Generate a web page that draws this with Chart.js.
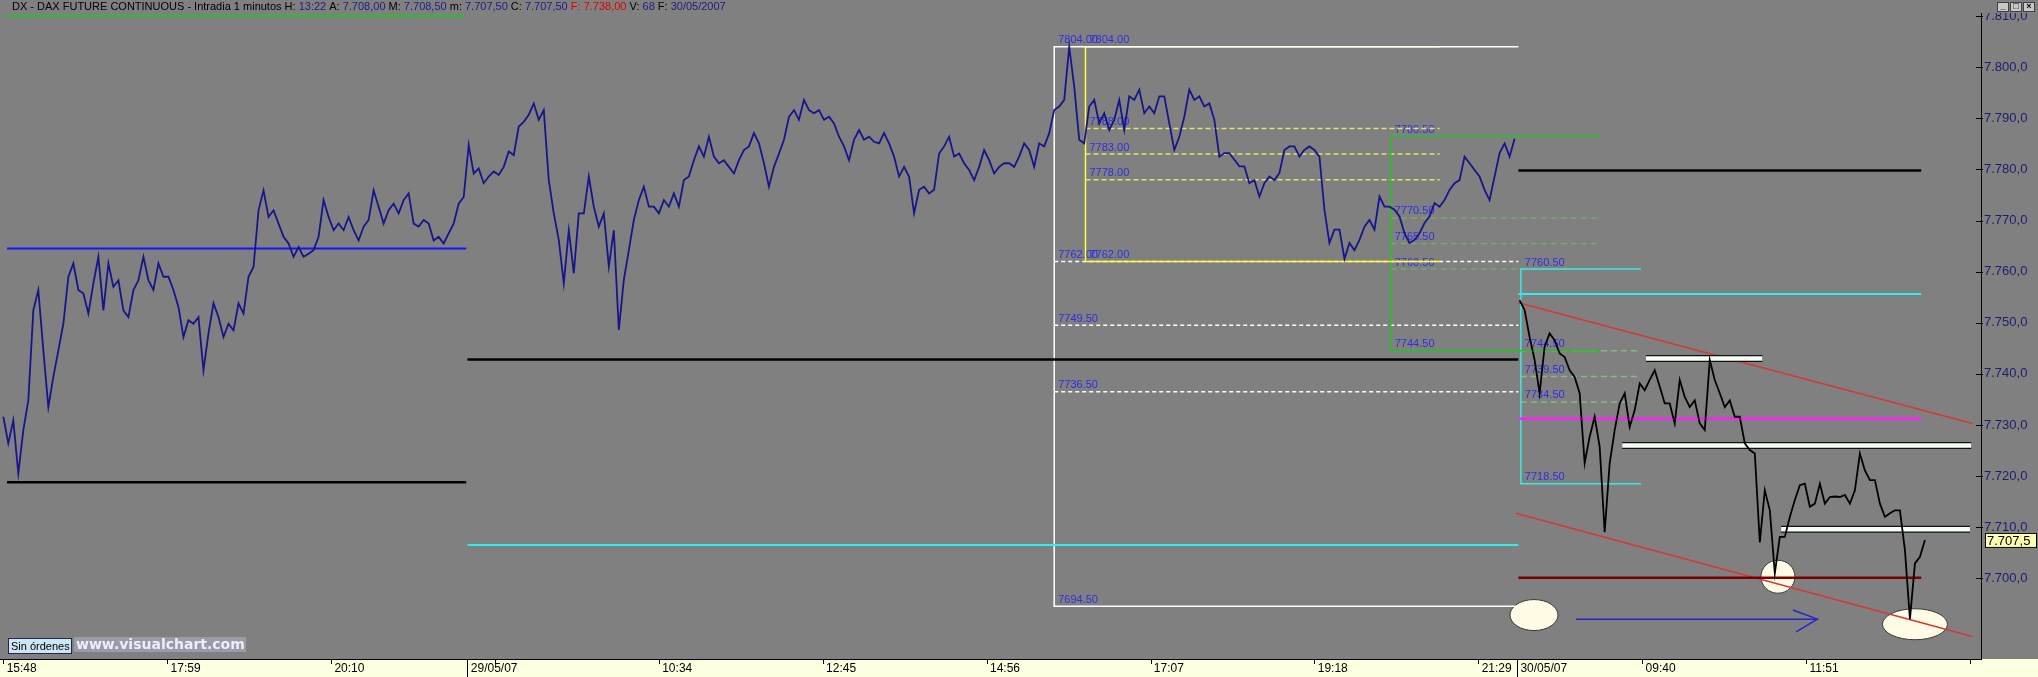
<!DOCTYPE html>
<html lang="es">
<head>
<meta charset="UTF-8">
<title>DX - DAX FUTURE CONTINUOUS - Intradia 1 minutos</title>
<script src="https://cdn.jsdelivr.net/npm/chart.js"></script>
<style>
  html, body { margin: 0; padding: 0; background: #808080; }
  #wrap { width: 2038px; height: 677px; }
</style>
</head>
<body>
<div id="wrap"><canvas id="chart" width="2038" height="677"></canvas></div>
<script>
// --- data (bar = one minute; one value every 4 bars) ---
const BAR_STEP = 4;

// 28/05 15:48 -> 29/05 22:00, starts at bar 0
const sessionBlue = [
  7731.6, 7726.4, 7730.9, 7720.5, 7729.0, 7734.8, 7752.4, 7756.4, 7744.6, 7733.5,
  7739.4, 7744.6, 7749.8, 7759.0, 7761.6, 7756.4, 7755.7, 7751.8, 7757.7, 7762.9,
  7752.4, 7761.6, 7757.0, 7758.3, 7752.4, 7751.1, 7756.4, 7758.3, 7762.9, 7758.3,
  7756.4, 7761.6, 7759.0, 7759.0, 7756.4, 7753.1, 7747.2, 7750.5, 7749.8, 7751.1,
  7740.7, 7747.9, 7753.8, 7751.1, 7747.2, 7749.8, 7748.5, 7753.8, 7751.8, 7759.0,
  7760.9, 7772.0, 7775.9, 7770.7, 7772.0, 7769.4, 7766.8, 7765.5, 7762.9, 7764.8,
  7762.9, 7763.5, 7764.2, 7766.8, 7774.0, 7770.7, 7768.1, 7769.4, 7768.1, 7770.7,
  7768.1, 7766.1, 7768.8, 7770.1, 7775.9, 7772.7, 7769.4, 7772.0, 7773.3, 7771.4,
  7774.0, 7775.3, 7769.4, 7768.8, 7770.1, 7769.4, 7766.1, 7766.8, 7765.5, 7767.5,
  7769.4, 7773.3, 7774.6,
  7784.8, 7779.2, 7780.2, 7777.3, 7778.6, 7779.6, 7778.9, 7780.5, 7783.5, 7782.8,
  7788.4, 7789.3, 7790.7, 7792.9, 7789.7, 7791.6, 7777.9, 7771.4, 7766.2, 7757.7,
  7768.1, 7759.7, 7771.4, 7771.4, 7778.6, 7772.7, 7768.8, 7771.4, 7761.0, 7768.1,
  7748.6, 7758.4, 7764.2, 7770.1, 7774.0, 7776.6, 7772.7, 7772.7, 7771.4, 7774.0,
  7772.7, 7775.3, 7772.7, 7777.9, 7778.6, 7781.8, 7784.5, 7782.5, 7786.4, 7782.5,
  7781.2, 7781.8, 7780.5, 7779.2, 7781.8, 7783.8, 7784.5, 7787.1, 7785.1, 7781.2,
  7776.6, 7780.5, 7783.1, 7785.8, 7790.3, 7791.6, 7789.7, 7793.6, 7791.6, 7791.0,
  7791.6, 7789.7, 7790.3, 7789.0, 7786.4, 7784.5, 7781.8, 7785.8, 7787.7, 7785.8,
  7786.4, 7785.4, 7785.1, 7787.1, 7785.1, 7782.5, 7778.6, 7780.5, 7778.6, 7771.4,
  7776.0, 7776.6, 7775.3, 7776.0, 7783.1, 7784.5, 7786.4, 7782.5, 7783.1, 7781.2,
  7779.9, 7777.9, 7780.5, 7783.8, 7781.8, 7779.2, 7780.5, 7781.2, 7781.2, 7780.5,
  7782.5, 7785.1, 7783.8, 7780.5, 7785.1, 7784.5, 7787.1, 7791.6, 7792.3, 7793.6,
  7804.0, 7796.2, 7785.8,
  7785.1, 7792.3, 7793.6, 7789.0, 7791.0, 7787.7, 7789.7, 7793.6, 7787.7, 7794.3,
  7793.6, 7795.6, 7791.0, 7792.3, 7791.0, 7794.3, 7794.3, 7789.0, 7783.8, 7786.4,
  7790.3, 7795.6, 7793.6, 7794.3, 7792.3, 7792.9, 7789.7, 7782.5, 7783.2, 7783.2,
  7781.9, 7780.6, 7780.6, 7777.3, 7777.9, 7774.7, 7777.3, 7778.6, 7777.9, 7779.3,
  7783.8, 7784.5, 7784.5, 7782.5, 7783.8, 7784.5, 7783.8, 7782.5, 7772.1, 7765.6,
  7768.2, 7768.2, 7762.5, 7765.6, 7764.2, 7766.2, 7768.8, 7770.1, 7768.2, 7774.7,
  7772.7, 7772.7, 7772.1, 7770.8, 7767.5, 7765.6, 7766.2, 7767.5, 7769.5, 7770.8,
  7773.4, 7772.7, 7774.0, 7776.0, 7777.3, 7777.9, 7782.5, 7781.2, 7779.9, 7778.6,
  7776.0, 7774.0, 7778.6, 7783.2, 7785.1, 7782.5, 7786.0
];

// 30/05 from 08:00 to 13:22
const sessionBlackStart = 1212;
const sessionBlack = [
  7754.4, 7752.5, 7747.2, 7742.7, 7736.2, 7745.3, 7747.9, 7746.6, 7744.0, 7743.3,
  7740.7, 7739.4, 7736.2, 7722.5, 7727.7, 7731.6, 7725.7, 7709.0, 7722.5, 7729.0,
  7734.2, 7736.2, 7729.6, 7732.9, 7738.1, 7736.8, 7738.8, 7740.7, 7737.5, 7734.2,
  7734.2, 7730.3, 7738.8, 7735.5, 7733.5, 7734.8, 7730.3, 7729.0, 7742.7, 7738.8,
  7736.2, 7733.5, 7734.8, 7731.6, 7731.6, 7726.4, 7725.1, 7724.4, 7707.0, 7717.2,
  7713.3, 7701.0, 7708.1, 7708.1, 7712.0, 7715.3, 7718.2, 7718.5, 7714.0, 7714.6,
  7718.5, 7714.6, 7715.9, 7716.0, 7715.9, 7716.3, 7714.6, 7717.2, 7724.4, 7721.1,
  7719.2, 7719.2, 7714.6, 7712.0, 7712.7, 7713.3, 7713.3, 7705.5, 7692.0, 7702.9,
  7704.2, 7707.5
];

const timeTicks  = [0, 131, 262, 371, 393, 524, 655, 786, 917, 1048, 1179, 1210, 1310, 1441, 1572];
const timeLabels = ['15:48', '17:59', '20:10', '29/05/07', '', '10:34', '12:45', '14:56', '17:07', '19:18', '21:29', '30/05/07', '09:40', '11:51', ''];
const dayBreaks  = [371, 1210];
const priceTicks = [7700, 7710, 7720, 7730, 7740, 7750, 7760, 7770, 7780, 7790, 7800, 7810];

// horizontal levels: [fromBar, toBar, price]
const blueLevels    = [[3, 370, 7764.5]];
const blackLevels   = [[3, 370, 7718.8], [371, 1211, 7742.8], [1211, 1533, 7779.8]];
const cyanLevels    = [[371, 1211, 7706.5], [1211, 1533, 7755.6]];
const magentaLevels = [[1211, 1533, 7731.2]];
const maroonLevels  = [[1211, 1533, 7700.1]];
const zoneBars      = [[1313, 1406, 7743.0], [1294, 1573, 7726.0], [1421, 1572, 7709.6]];

// retracement boxes: [leftBar, rightBar] and [top, levels..., bottom]
const whiteBoxBars   = [840, 1211];
const whiteBoxPrices = [7804.0, 7762.0, 7749.5, 7736.5, 7694.5];
const yellowBoxBars   = [865, 1148];
const yellowBoxPrices = [7804.0, 7788.0, 7783.0, 7778.0, 7762.0];
const greenBoxBars   = [1109, 1276];
const greenBoxPrices = [7786.5, 7770.5, 7765.5, 7760.5, 7744.5];
const cyanBoxBars   = [1213, 1309];
const cyanBoxPrices = [7760.5, 7744.5, 7739.5, 7734.5, 7718.5];

// channel, marks and arrow
const channelUpper = [[1211, 7753.9], [1574, 7730.3]];
const channelLower = [[1209, 7712.7], [1574, 7688.6]];
const markCentres  = [[1223.5, 7692.8], [1418.5, 7700.3], [1528, 7691.0]];
const arrowBars    = [1257, 1450];
const arrowPrice   = 7692.0;
const arrowHead    = [[1430.5, 7693.8], [1450, 7692.0], [1433, 7689.5]];

const headerTitle  = 'DX - DAX FUTURE CONTINUOUS - Intradia 1 minutos';
const headerFields = [['H:', '13:22'], ['A:', '7.708,00'], ['M:', '7.708,50'], ['m:', '7.707,50'],
                      ['C:', '7.707,50'], ['F:', '7.738,00'], ['V:', '68'], ['F:', '30/05/2007']];

// --- helpers ---
const FONT = '"Liberation Sans", Arial, sans-serif';

function fmtPrice(v, dec) {
  const s = v.toFixed(dec).replace('.', ',');
  return s.slice(0, 1) + '.' + s.slice(1);
}

function seg(from, to, price) {
  return [{x: from, y: price}, {x: to, y: price}];
}

function lineSet(data, color, width, order, dash) {
  return {
    data: data, borderColor: color, borderWidth: width, borderDash: dash || [],
    pointRadius: 0, tension: 0, fill: false, order: order
  };
}

function boxSets(bars, prices, color, fibColor, dash) {
  const top = prices[0], bottom = prices[prices.length - 1];
  const sets = [lineSet([{x: bars[1], y: top}, {x: bars[0], y: top}, {x: bars[0], y: bottom}, {x: bars[1], y: bottom}], color, 1.5, 4)];
  prices.slice(1, -1).forEach(p => sets.push(lineSet(seg(bars[0], bars[1], p), fibColor, 1.5, 5, dash)));
  return sets;
}

const blueData = sessionBlue.map((v, i) => ({x: i * BAR_STEP, y: v}));
const blackData = sessionBlack.map((v, i) => ({x: sessionBlackStart + i * BAR_STEP, y: v}));

const datasets = [
  lineSet(blueData, '#16168a', 1.8, 0),
  lineSet(blackData, '#000000', 1.8, 0)
];
blueLevels.forEach(l => datasets.push(lineSet(seg(...l), '#1414ff', 2, 3)));
blackLevels.forEach(l => datasets.push(lineSet(seg(...l), '#000000', 2.5, 3)));
cyanLevels.forEach(l => datasets.push(lineSet(seg(...l), '#30ecec', 2, 3)));
magentaLevels.forEach(l => datasets.push(lineSet(seg(...l), '#ff1eff', 2.5, 3)));
maroonLevels.forEach(l => datasets.push(lineSet(seg(...l), '#7a0000', 2.5, 3)));
zoneBars.forEach(l => {
  datasets.push(lineSet(seg(...l), '#101010', 7, 2));
  datasets.push(lineSet(seg(...l), '#f4fcf4', 4.5, 1));
});
datasets.push(...boxSets(whiteBoxBars, whiteBoxPrices, '#ffffff', '#ffffff', [4, 3]));
datasets.push(...boxSets(yellowBoxBars, yellowBoxPrices, '#ffff3c', '#e4e46a', [5, 3]));
datasets.push(...boxSets(greenBoxBars, greenBoxPrices, '#22c422', '#74a874', [6, 4]));
datasets.push(...boxSets(cyanBoxBars, cyanBoxPrices, '#3ce6e6', '#88b888', [6, 4]));
datasets.push(lineSet(channelUpper.map(p => ({x: p[0], y: p[1]})), '#d23a3a', 1.5, 3));
datasets.push(lineSet(channelLower.map(p => ({x: p[0], y: p[1]})), '#d23a3a', 1.5, 3));
datasets.push(lineSet(seg(arrowBars[0], arrowBars[1], arrowPrice), '#2626c8', 1.5, 3));
datasets.push(lineSet(arrowHead.map(p => ({x: p[0], y: p[1]})), '#2626c8', 1.5, 3));

const MARK_RADII = [[24, 15.5], [17, 16.5], [32.5, 15.5]];

const decor = {
  id: 'decor',
  beforeDraw(chart) {
    const {ctx, chartArea: a, width, height} = chart;
    ctx.save();
    ctx.fillStyle = '#808080';
    ctx.fillRect(0, 0, width, height);
    ctx.fillStyle = '#ffffe1';
    ctx.fillRect(0, a.bottom, width, height - a.bottom);
    ctx.restore();
  },
  beforeDatasetsDraw(chart) {
    const {ctx} = chart;
    const xs = chart.scales.x, ys = chart.scales.y;
    ctx.save();
    markCentres.forEach(([bar, price], i) => {
      ctx.beginPath();
      ctx.ellipse(xs.getPixelForValue(bar), ys.getPixelForValue(price), MARK_RADII[i][0], MARK_RADII[i][1], 0, 0, Math.PI * 2);
      ctx.fillStyle = '#fffbe4';
      ctx.fill();
      ctx.strokeStyle = '#3a3a3a';
      ctx.lineWidth = 1;
      ctx.stroke();
    });
    ctx.font = '11px ' + FONT;
    ctx.fillStyle = '#2e2ee4';
    ctx.textBaseline = 'bottom';
    [[whiteBoxBars, whiteBoxPrices], [yellowBoxBars, yellowBoxPrices], [greenBoxBars, greenBoxPrices], [cyanBoxBars, cyanBoxPrices]]
      .forEach(([bars, prices]) => {
        const px = xs.getPixelForValue(bars[0]) + 4;
        prices.forEach(p => ctx.fillText(p.toFixed(2), px, ys.getPixelForValue(p) - 1));
      });
    ctx.restore();
  },
  afterDraw(chart) {
    const {ctx, chartArea: a, width, height} = chart;
    const xs = chart.scales.x, ys = chart.scales.y;
    ctx.save();

    // tick marks
    ctx.strokeStyle = '#000';
    ctx.lineWidth = 1;
    ctx.beginPath();
    timeTicks.forEach(t => {
      const px = Math.round(xs.getPixelForValue(t)) + 0.5;
      const long = dayBreaks.includes(t);
      ctx.moveTo(px, a.bottom);
      ctx.lineTo(px, long ? height : a.bottom + 5);
    });
    priceTicks.forEach(v => {
      const py = Math.round(ys.getPixelForValue(v)) + 0.5;
      ctx.moveTo(a.right - 5, py);
      ctx.lineTo(a.right + 2, py);
    });
    ctx.moveTo(Math.round(a.right) + 0.5, 0);
    ctx.lineTo(Math.round(a.right) + 0.5, a.bottom);
    ctx.stroke();

    // header band
    ctx.fillStyle = '#808080';
    ctx.fillRect(0, 0, width, 13);
    ctx.font = '11px ' + FONT;
    ctx.textBaseline = 'middle';
    let hx = 12;
    const parts = [[headerTitle, '#000']];
    headerFields.forEach(([k, v], i) => {
      const hot = i === 5;
      parts.push([' ' + k + ' ', hot ? '#e00000' : '#000']);
      parts.push([v, hot ? '#e00000' : '#1c1c86']);
    });
    parts.forEach(([t, c]) => {
      ctx.fillStyle = c;
      ctx.fillText(t, hx, 7);
      hx += ctx.measureText(t).width;
    });
    ctx.fillStyle = '#22c422';
    ctx.fillRect(7, 15, 457, 2);

    // window buttons
    ['_', '□', '×'].forEach((g, i) => {
      const bx = 1997 + i * 13;
      ctx.fillStyle = '#c8c8c8';
      ctx.fillRect(bx, 2, 12, 10);
      ctx.strokeStyle = '#404040';
      ctx.strokeRect(bx + 0.5, 2.5, 11, 9);
      ctx.fillStyle = '#000';
      ctx.font = 'bold 9px ' + FONT;
      ctx.textAlign = 'center';
      ctx.fillText(g, bx + 6, 7);
    });
    ctx.textAlign = 'left';

    // last price tag
    const last = sessionBlack[sessionBlack.length - 1];
    const ly = ys.getPixelForValue(last);
    ctx.fillStyle = '#ffffb4';
    ctx.fillRect(a.right + 4, ly - 7, 52, 15);
    ctx.strokeStyle = '#000';
    ctx.strokeRect(a.right + 4.5, ly - 6.5, 51, 14);
    ctx.fillStyle = '#000';
    ctx.font = '13px ' + FONT;
    ctx.fillText(fmtPrice(last, 1), a.right + 6, ly + 1);

    // status button and watermark
    ctx.fillStyle = '#cde6f6';
    ctx.fillRect(8, 638, 64, 16);
    ctx.strokeStyle = '#26264a';
    ctx.strokeRect(8.5, 638.5, 63, 15);
    ctx.fillStyle = '#000';
    ctx.font = '11px ' + FONT;
    ctx.fillText('Sin órdenes', 11, 646.5);
    ctx.fillStyle = '#9a9aa8';
    ctx.fillRect(74, 637, 172, 15);
    ctx.fillStyle = '#eeeefa';
    ctx.font = 'bold 14px "DejaVu Sans", Verdana, sans-serif';
    ctx.fillText('www.visualchart.com', 76, 645);
    ctx.restore();
  }
};

new Chart(document.getElementById('chart'), {
  type: 'line',
  data: { datasets: datasets },
  options: {
    responsive: false,
    animation: false,
    devicePixelRatio: 1,
    layout: { padding: { top: 12, left: 0, right: 0, bottom: 0 } },
    plugins: { legend: { display: false }, tooltip: { enabled: false } },
    scales: {
      x: {
        type: 'linear',
        min: -2.64,
        max: 1580.8,
        afterFit: s => { s.height = 18; },
        afterBuildTicks: s => { s.ticks = timeTicks.map(v => ({value: v})); },
        grid: { display: false, drawTicks: false },
        border: { display: true, color: '#000', width: 1 },
        ticks: {
          autoSkip: false, maxRotation: 0, align: 'start', padding: 2,
          color: '#000', font: { family: FONT, size: 12 },
          callback: (v, i) => ' ' + timeLabels[i]
        }
      },
      y: {
        type: 'linear',
        position: 'right',
        min: 7684.2,
        max: 7810.8,
        afterFit: s => { s.width = 57; },
        afterBuildTicks: s => { s.ticks = priceTicks.map(v => ({value: v})); },
        grid: { display: false, drawTicks: false },
        border: { display: true, color: '#000', width: 1 },
        ticks: {
          padding: 3, color: '#1c1c70', font: { family: FONT, size: 13 },
          callback: v => fmtPrice(v, 1)
        }
      }
    }
  },
  plugins: [decor]
});
</script>
</body>
</html>
